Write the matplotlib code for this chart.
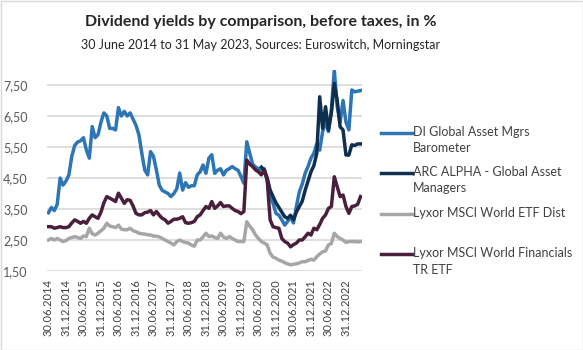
import matplotlib.pyplot as plt
from matplotlib.lines import Line2D
from matplotlib.patches import Rectangle
import numpy as np

plt.rcParams['font.family'] = ['Lato', 'DejaVu Sans']

# month-end dates, 30.06.2014 .. 31.05.2023 (108 months)
months = np.arange(108)
tick_labels = ["30.06.2014", "31.12.2014", "30.06.2015", "31.12.2015", "30.06.2016",
               "31.12.2016", "30.06.2017", "31.12.2017", "30.06.2018", "31.12.2018",
               "30.06.2019", "31.12.2019", "30.06.2020", "31.12.2020", "30.06.2021",
               "31.12.2021", "30.06.2022", "31.12.2022"]

di_barometer = [
    3.38, 3.55, 3.45, 3.65, 4.50, 4.27, 4.40, 4.60, 5.20, 5.55,
    5.66, 5.70, 5.80, 5.40, 5.14, 6.16, 5.80, 5.90, 6.30, 6.60,
    6.50, 6.10, 6.10, 6.05, 6.77, 6.50, 6.65, 6.50, 6.60, 6.40,
    6.20, 5.90, 5.30, 4.76, 4.60, 5.35, 5.20, 4.76, 4.27, 4.10,
    4.05, 4.00, 3.90, 4.00, 4.15, 4.66, 4.11, 4.35, 4.20, 4.25,
    4.25, 4.60, 4.70, 4.92, 4.65, 5.14, 5.25, 4.65, 4.75, 4.80,
    4.60, 4.75, 4.80, 4.87, 4.80, 4.75, 4.55, 4.33, 5.67, 5.30,
    4.95, 4.85, 4.80, 4.76, 4.80, 4.43, 3.90, 3.68, 3.36, 3.30,
    3.15, 2.98, 3.10, 3.25, 3.05, 3.58, 4.05, 4.30, 4.65, 4.87,
    5.14, 5.30, 5.60, 5.40, 6.00, 6.30, 6.00, 6.70, 7.98, 6.80,
    6.30, 7.00, 6.30, 6.05, 7.34, 7.28, 7.30, 7.32]

arc_alpha = [np.nan] * 73 + [
    4.85, 4.75, 4.50, 4.11, 3.90, 3.70, 3.55, 3.40, 3.25, 3.20,
    3.30, 3.15, 3.40, 3.58, 3.75, 4.10, 4.40, 4.70, 4.90, 5.30,
    7.12, 6.10, 6.80, 6.05, 6.60, 7.55, 7.00, 6.15, 6.05, 5.24,
    5.24, 5.57, 5.55, 5.60, 5.60]

lyxor_world = [
    2.50, 2.55, 2.50, 2.55, 2.50, 2.45, 2.48, 2.55, 2.58, 2.61,
    2.58, 2.55, 2.63, 2.61, 2.88, 2.70, 2.66, 2.72, 2.80, 2.88,
    3.04, 2.95, 2.93, 2.90, 2.98, 2.85, 2.83, 2.83, 2.88, 2.80,
    2.77, 2.72, 2.70, 2.69, 2.67, 2.66, 2.63, 2.62, 2.60, 2.55,
    2.50, 2.45, 2.40, 2.34, 2.45, 2.50, 2.45, 2.42, 2.40, 2.34,
    2.30, 2.50, 2.50, 2.60, 2.72, 2.61, 2.63, 2.58, 2.55, 2.72,
    2.60, 2.55, 2.61, 2.55, 2.50, 2.45, 2.45, 2.45, 3.09, 2.95,
    2.83, 2.66, 2.55, 2.45, 2.40, 2.34, 2.07, 1.95, 1.91, 1.85,
    1.82, 1.77, 1.73, 1.70, 1.72, 1.73, 1.76, 1.80, 1.80, 1.84,
    1.88, 1.85, 1.96, 2.05, 2.12, 2.15, 2.34, 2.39, 2.72, 2.61,
    2.55, 2.50, 2.42, 2.45, 2.45, 2.45, 2.44, 2.45]

lyxor_financials = [
    2.93, 2.93, 2.88, 2.90, 2.93, 2.90, 2.90, 2.93, 3.05, 3.15,
    3.10, 3.04, 3.10, 3.04, 3.20, 3.31, 3.25, 3.20, 3.40, 3.70,
    3.90, 3.85, 3.80, 3.74, 4.01, 3.85, 3.68, 3.80, 3.78, 3.60,
    3.36, 3.31, 3.31, 3.38, 3.40, 3.45, 3.31, 3.42, 3.30, 3.20,
    3.15, 3.04, 3.10, 3.17, 3.17, 3.20, 3.25, 3.06, 3.04, 3.06,
    3.10, 3.25, 3.31, 3.45, 3.58, 3.52, 3.74, 3.52, 3.60, 3.71,
    3.58, 3.60, 3.60, 3.52, 3.45, 3.42, 3.35, 3.42, 5.08, 4.95,
    4.87, 4.76, 4.70, 4.60, 4.76, 4.43, 3.15, 2.93, 2.90, 2.88,
    2.55, 2.45, 2.40, 2.28, 2.35, 2.40, 2.50, 2.50, 2.60, 2.72,
    2.66, 2.88, 2.83, 3.00, 3.20, 3.31, 3.52, 3.58, 4.54, 4.22,
    3.90, 3.95, 3.58, 3.36, 3.58, 3.60, 3.65, 3.90]

series = [
    ("DI Global Asset Mgrs\nBarometer", di_barometer, "#2E75B6"),
    ("ARC ALPHA - Global Asset\nManagers", arc_alpha, "#0F2F4F"),
    ("Lyxor MSCI World ETF Dist", lyxor_world, "#A6A6A6"),
    ("Lyxor MSCI World Financials\nTR ETF", lyxor_financials, "#4A1F3C"),
]

W, H = 583, 350
fig = plt.figure(figsize=(W / 100, H / 100), dpi=100)
ax = fig.add_axes([47 / W, 1 - 271 / H, 315 / W, (271 - 69.5) / H])

# draw order: gray, purple, blue, navy on top
for k in [2, 3, 0, 1]:
    label, vals, color = series[k]
    ax.plot(months, vals, color=color, lw=2.5, solid_joinstyle="round", zorder=3 + k)

ax.set_xlim(-0.5, 107.5)
ax.set_ylim(1.5, 8.0)
yt = [1.5, 2.5, 3.5, 4.5, 5.5, 6.5, 7.5]
ax.set_yticks(yt)
ax.set_yticklabels([f"{v:.2f}".replace(".", ",") for v in yt], fontsize=9, color="#595959")
ax.set_xticks(months[::6])
ax.set_xticklabels(tick_labels, rotation=90, fontsize=8, color="#404040")
ax.tick_params(axis="both", length=0, pad=6)
ax.tick_params(axis="y", pad=14)
ax.grid(axis="y", color="#D9D9D9", lw=1.2)
ax.set_axisbelow(True)
for s in ax.spines.values():
    s.set_visible(False)

cx = 261 / W
fig.text(cx, 1 - 22 / H, "Dividend yields by comparison, before taxes, in %",
         ha="center", va="center", fontsize=11.5, fontweight="bold", color="#262626")
fig.text(cx, 1 - 45 / H, "30 June 2014 to 31 May 2023, Sources: Euroswitch, Morningstar",
         ha="center", va="center", fontsize=9, color="#262626")

# legend drawn by hand: the handle sits level with the first text line
legend_y = [133, 173, 214, 254]
for (label, vals, color), y in zip(series, legend_y):
    fy = 1 - y / H
    fig.add_artist(Line2D([381 / W, 412 / W], [fy, fy], color=color, lw=2.5))
    fig.text(413 / W, fy + 7 / H, label, ha="left", va="top", fontsize=9,
             color="#404040", linespacing=1.45)

fig.add_artist(Rectangle((0.5 / W, 0.5 / H), 1 - 1 / W, 1 - 1 / H, transform=fig.transFigure,
                         fill=False, edgecolor="#D9D9D9", lw=1))

fig.savefig("out.png", dpi=100)
